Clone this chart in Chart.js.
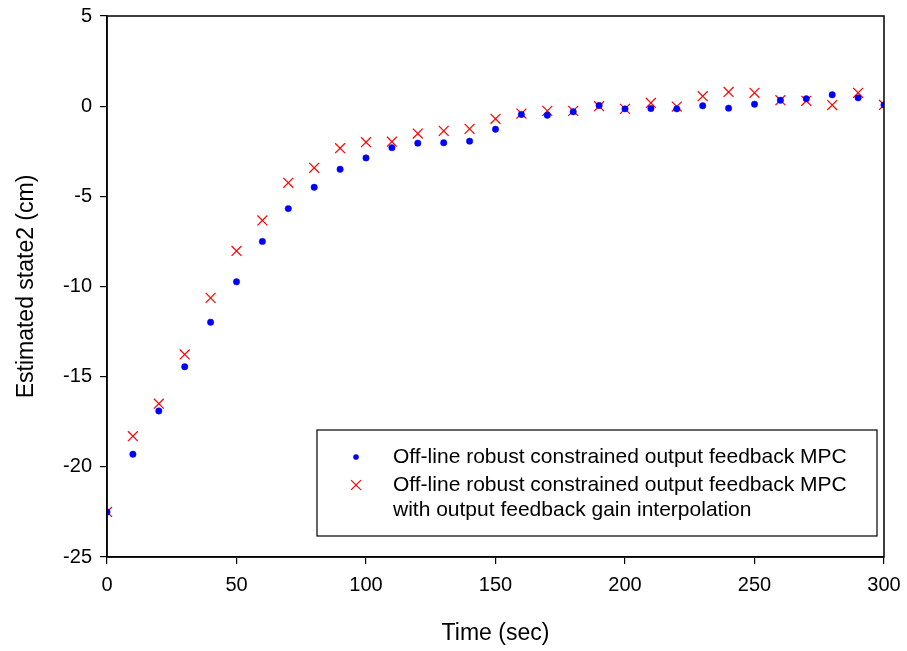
<!DOCTYPE html>
<html>
<head>
<meta charset="utf-8">
<script src="https://cdn.jsdelivr.net/npm/chart.js@4"></script>
<style>
  html, body { margin: 0; padding: 0; background: #fff; }
  #wrap { width: 907px; height: 651px; }
</style>
</head>
<body>
<div id="wrap"><canvas id="chart" width="907" height="651"></canvas></div>
<script>
// time samples (sec)
const times = [0, 10, 20, 30, 40, 50, 60, 70, 80, 90, 100, 110, 120, 130, 140, 150,
  160, 170, 180, 190, 200, 210, 220, 230, 240, 250, 260, 270, 280, 290, 300];

// estimated state 2, off-line robust MPC
const stateOffline = [-22.5, -19.3, -16.9, -14.45, -11.98, -9.74, -7.5, -5.68, -4.5, -3.5,
  -2.87, -2.3, -2.05, -2.03, -1.94, -1.28, -0.46, -0.5, -0.31, 0.04, -0.15, -0.13,
  -0.15, 0.02, -0.11, 0.11, 0.33, 0.41, 0.63, 0.46, 0.07];

// estimated state 2, with gain interpolation
const stateInterp = [-22.5, -18.3, -16.5, -13.77, -10.63, -8.03, -6.34, -4.25, -3.42, -2.33,
  -2.0, -1.97, -1.52, -1.37, -1.26, -0.7, -0.41, -0.26, -0.26, 0.0, -0.15, 0.18,
  -0.02, 0.55, 0.79, 0.74, 0.33, 0.3, 0.06, 0.74, 0.07];

const legendLabels = [
  ["Off-line robust constrained output feedback MPC"],
  ["Off-line robust constrained output feedback MPC", "with output feedback gain interpolation"]
];

const xTicks = [0, 50, 100, 150, 200, 250, 300];
const yTicks = [5, 0, -5, -10, -15, -20, -25];

const FONT = "'Liberation Sans', Arial, sans-serif";

function toPoints(values) {
  return times.map((t, i) => ({ x: t, y: values[i] }));
}

// frame around the plot + boxed legend
const framePlugin = {
  id: "frame",
  afterDraw(chart) {
    const { ctx, chartArea: a } = chart;
    ctx.save();
    ctx.strokeStyle = "#000";
    ctx.lineWidth = 1.5;
    ctx.strokeRect(a.left, a.top, a.right - a.left, a.bottom - a.top);

    // legend box
    const bx = 317, by = 430, bw = 560, bh = 106;
    ctx.lineWidth = 1.2;
    ctx.strokeRect(bx, by, bw, bh);

    const datasets = chart.data.datasets;
    const rows = [457, 485];
    ctx.textBaseline = "middle";
    ctx.textAlign = "left";
    legendLabels.forEach((lines, i) => {
      const ds = datasets[i];
      const y = rows[i];
      ctx.fillStyle = ds.pointBackgroundColor;
      ctx.strokeStyle = ds.pointBorderColor;
      ctx.lineWidth = ds.pointBorderWidth;
      Chart.helpers.drawPoint(ctx, {
        pointStyle: ds.pointStyle,
        radius: ds.legendRadius,
        borderWidth: ds.pointBorderWidth,
        rotation: 0
      }, 356, y);
      ctx.fillStyle = "#000";
      ctx.font = "21px " + FONT;
      lines.forEach((txt, k) => {
        ctx.fillText(txt, 393, y + k * 25);
      });
    });
    ctx.restore();
  }
};

new Chart(document.getElementById("chart"), {
  type: "scatter",
  data: {
    datasets: [
      {
        label: legendLabels[0].join(" "),
        data: toPoints(stateOffline),
        pointStyle: "circle",
        pointRadius: 3.2,
        legendRadius: 2.6,
        pointBackgroundColor: "#0000ff",
        pointBorderColor: "#0000ff",
        pointBorderWidth: 0.5
      },
      {
        label: legendLabels[1].join(" "),
        data: toPoints(stateInterp),
        pointStyle: "crossRot",
        pointRadius: 7,
        legendRadius: 7,
        pointBackgroundColor: "#ff0000",
        pointBorderColor: "#ff0000",
        pointBorderWidth: 1.2
      }
    ]
  },
  options: {
    responsive: false,
    animation: false,
    layout: { padding: { left: 0, top: 16, right: 23, bottom: 0 } },
    plugins: {
      legend: { display: false },
      tooltip: { enabled: false }
    },
    scales: {
      x: {
        type: "linear",
        min: 0,
        max: 300,
        afterBuildTicks(scale) { scale.ticks = xTicks.map(v => ({ value: v })); },
        afterFit(scale) {
          scale.height = 94;
          scale.paddingLeft = 0;
          scale.paddingRight = 0;
        },
        grid: { display: true, drawOnChartArea: false, drawTicks: true, tickLength: 7, color: "#000", lineWidth: 1.2 },
        border: { display: true, color: "#000", width: 1.5 },
        ticks: { color: "#000", font: { family: FONT, size: 20 }, padding: 9, maxRotation: 0 },
        title: { display: true, text: "Time (sec)", color: "#000", font: { family: FONT, size: 23 }, padding: { top: 0, bottom: 4 } }
      },
      y: {
        type: "linear",
        min: -25,
        max: 5,
        afterBuildTicks(scale) { scale.ticks = yTicks.map(v => ({ value: v })); },
        afterFit(scale) {
          scale.width = 107;
          scale.paddingTop = 0;
          scale.paddingBottom = 0;
        },
        grid: { display: true, drawOnChartArea: false, drawTicks: true, tickLength: 7, color: "#000", lineWidth: 1.2 },
        border: { display: true, color: "#000", width: 1.5 },
        ticks: { color: "#000", font: { family: FONT, size: 20 }, padding: 8 },
        title: { display: true, text: "Estimated state2 (cm)", color: "#000", font: { family: FONT, size: 23 }, padding: { top: 13, bottom: 0 } }
      }
    }
  },
  plugins: [framePlugin]
});
</script>
</body>
</html>
